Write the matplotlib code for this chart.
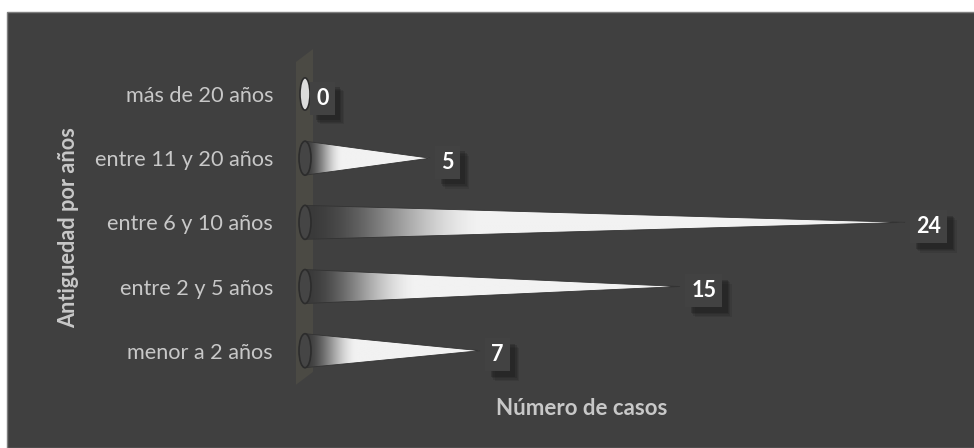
import matplotlib.pyplot as plt
import numpy as np
import matplotlib.patheffects as pe
from matplotlib.colors import LinearSegmentedColormap
from matplotlib.patches import Polygon, Ellipse, Rectangle

categorias = ['menor a 2 años', 'entre 2 y 5 años', 'entre 6 y 10 años',
              'entre 11 y 20 años', 'más de 20 años']
casos = [7, 15, 24, 5, 0]

bg = '#404040'
txt = '#c8c8c8'
plt.rcParams['font.family'] = ['Lato', 'DejaVu Sans']

fig = plt.figure(figsize=(9.74, 4.48), dpi=100, facecolor='white')
fig.patches.append(Rectangle((7 / 974, 0), 1, (448 - 12) / 448, transform=fig.transFigure,
                             fc=bg, ec='#7f7f7f', lw=1, zorder=-5))

# x=0 -> px 305, 25 px por unidad ; fila 0 -> px 351, 64.25 px por fila
ax = fig.add_axes([280 / 974, (448 - 386) / 448, 675 / 974, (386 - 58.7) / 448])
ax.set_xlim(-1, 26)
ax.set_ylim(-0.55, 4.55)
ax.set_facecolor('none')
for s in ax.spines.values():
    s.set_visible(False)
ax.set_xticks([])
ax.set_yticks(range(len(categorias)))
ax.set_yticklabels(categorias, fontsize=15.6, color=txt)
ax.tick_params(axis='y', length=0, pad=5)

# pared de fondo
ax.add_patch(Polygon([(-0.36, 4.5), (0.32, 4.7), (0.32, -0.33), (-0.36, -0.53)],
                     closed=True, fc='#4b4a44', ec='none', zorder=1, clip_on=False))

cmap = LinearSegmentedColormap.from_list('cono', ['#3a3a3a', '#f2f2f2'])
h = 0.265

sombra = [pe.SimplePatchShadow(offset=(o, -o), shadow_rgbFace='#161616', alpha=a)
          for o, a in [(7, 0.12), (6, 0.15), (5, 0.2), (4, 0.25)]] + [pe.Normal()]

for i, v in enumerate(casos):
    if v > 0:
        tri = Polygon([(0, i - h), (v, i), (0, i + h)], closed=True,
                      fc='none', ec='#333333', lw=0.6, zorder=3)
        ax.add_patch(tri)
        t = np.clip(np.linspace(0, 1, 400) / 0.3, 0, 1)
        g = t * t * (3 - 2 * t)
        im = ax.imshow(g[np.newaxis, :], cmap=cmap, vmin=0, vmax=1, aspect='auto',
                       extent=(0, v, i - h, i + h), zorder=2, interpolation='bilinear')
        im.set_clip_path(tri)
        ax.add_patch(Ellipse((0, i), 0.48, 2 * h, fc='#454545', ec='#2c2c2c', lw=1.2, zorder=4))
    else:
        ax.add_patch(Ellipse((0, i), 0.4, 2 * h * 0.95, fc='#dcdcdc', ec='#2c2c2c', lw=1.2, zorder=4))

    etq = ax.annotate(str(v), xy=(v, i), xytext=(8, -3), textcoords='offset points',
                      ha='left', va='center', fontsize=15.5, fontweight='bold', color='white',
                      zorder=6, bbox=dict(boxstyle='square,pad=0.28', fc='#424242', ec='none'))
    etq.get_bbox_patch().set_path_effects(sombra)

fig.text(69 / 974, 1 - 228 / 448, 'Antiguedad por años', rotation=90, ha='center', va='center',
         fontsize=15.6, fontweight='bold', color=txt)
fig.text(582 / 974, 1 - 408 / 448, 'Número de casos', ha='center', va='center',
         fontsize=16, fontweight='bold', color=txt)

fig.savefig('out.png', dpi=100, facecolor=fig.get_facecolor())
